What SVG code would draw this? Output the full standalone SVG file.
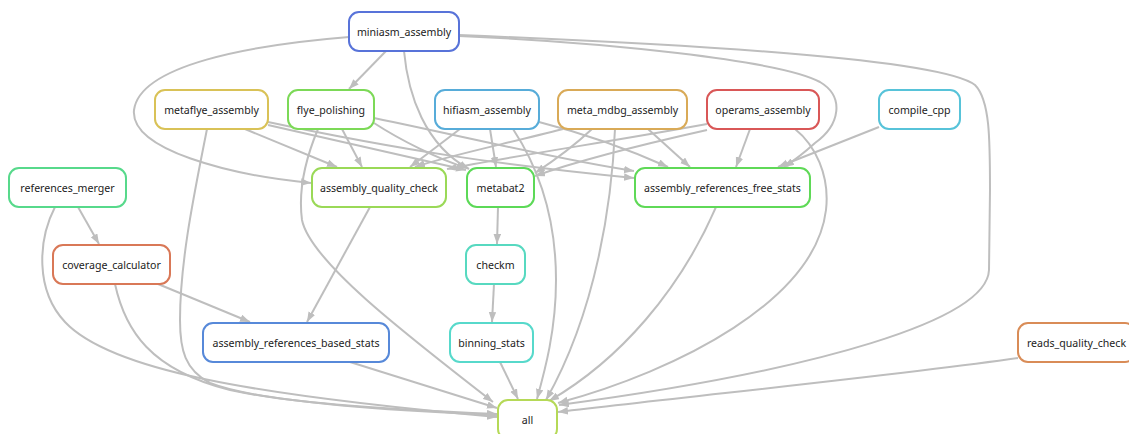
<svg xmlns="http://www.w3.org/2000/svg" width="1129" height="434" viewBox="0 0 1129 434">
<defs>
<marker id="ah" markerUnits="userSpaceOnUse" markerWidth="11" markerHeight="8" refX="10" refY="3.75" orient="auto">
<path d="M0,0 L10,3.75 L0,7.5 z" fill="#bebebe"/>
</marker>
<style>
.n rect{fill:#fff;stroke-width:2}
.n text{font-family:"Noto Sans","DejaVu Sans",sans-serif;font-size:10.6px;fill:#222;text-anchor:middle}
#edges path{fill:none;stroke:#bebebe;stroke-width:2;marker-end:url(#ah)}
</style>
</defs>
<rect width="1129" height="434" fill="#fff"/>
<g id="edges">
<path d="M386,51 L349,89"/>
<path d="M349,37 C250,45 140,65 134,110 C130,150 230,175 311,183"/>
<path d="M404,51 C408,95 425,145 469,169"/>
<path d="M459,36 C600,42 780,60 820,82 C845,97 840,125 815,143 C805,152 795,160 784,167"/>
<path d="M459,35 C680,44 940,58 975,85 C990,100 990,140 990,190 L989,270 C987,320 820,370 559,405"/>
<path d="M245,129 L337,167"/>
<path d="M268,125 L466,170"/>
<path d="M268,122 C400,150 500,165 634,178"/>
<path d="M207,129 C195,190 180,260 180,320 C180,350 185,370 210,383 C260,403 400,410 497,414"/>
<path d="M342,129 L362,167"/>
<path d="M374,123 C400,140 440,160 467,168"/>
<path d="M374,118 C480,140 560,160 634,171"/>
<path d="M318,129 C305,160 298,190 302,220 C310,260 400,330 493,402"/>
<path d="M460,129 L410,167"/>
<path d="M490,129 L496,167"/>
<path d="M539,122 C590,135 630,150 668,167"/>
<path d="M513,129 C540,170 556,220 556,280 C556,330 545,370 537,399"/>
<path d="M563,129 C500,145 440,158 415,167"/>
<path d="M592,129 C575,145 555,160 535,173"/>
<path d="M648,129 L690,167"/>
<path d="M615,129 C612,200 597,310 546,400"/>
<path d="M707,124 C620,140 520,155 447,169"/>
<path d="M707,130 C640,145 580,160 535,176"/>
<path d="M750,129 L736,167"/>
<path d="M795,129 C815,145 830,175 826,210 C815,300 680,370 558,403"/>
<path d="M879,127 L778,167"/>
<path d="M78,207 L99,244"/>
<path d="M55,207 C38,240 35,290 65,322 C110,370 250,395 497,417"/>
<path d="M115,284 C125,330 150,370 230,390 C300,405 420,412 497,415"/>
<path d="M158,284 L250,322"/>
<path d="M370,207 L307,322"/>
<path d="M498,207 L497,244"/>
<path d="M494,284 L492,322"/>
<path d="M500,362 L518,399"/>
<path d="M350,362 L497,408"/>
<path d="M716,207 C680,290 620,360 549,401"/>
<path d="M1018,358 C900,375 700,395 558,412"/>
</g>
<g id="miniasm_assembly" class="n"><rect x="349" y="12" width="110" height="39" rx="10" stroke="#5873D9"/><text x="404" y="35.5">miniasm_assembly</text></g>
<g id="metaflye_assembly" class="n"><rect x="155" y="90" width="113" height="39" rx="10" stroke="#D9C257"/><text x="211.5" y="113.5">metaflye_assembly</text></g>
<g id="flye_polishing" class="n"><rect x="288" y="90" width="86" height="39" rx="10" stroke="#7CD957"/><text x="331" y="113.5">flye_polishing</text></g>
<g id="hifiasm_assembly" class="n"><rect x="435" y="90" width="104" height="39" rx="10" stroke="#57ACD9"/><text x="487" y="113.5">hifiasm_assembly</text></g>
<g id="meta_mdbg_assembly" class="n"><rect x="558" y="90" width="129" height="39" rx="10" stroke="#D9AA57"/><text x="622.5" y="113.5">meta_mdbg_assembly</text></g>
<g id="operams_assembly" class="n"><rect x="707" y="90" width="112" height="39" rx="10" stroke="#D95757"/><text x="763" y="113.5">operams_assembly</text></g>
<g id="compile_cpp" class="n"><rect x="879" y="90" width="81" height="39" rx="10" stroke="#57C3D9"/><text x="919.5" y="113.5">compile_cpp</text></g>
<g id="references_merger" class="n"><rect x="9" y="168" width="117" height="39" rx="10" stroke="#57D98B"/><text x="67.5" y="191.5">references_merger</text></g>
<g id="assembly_quality_check" class="n"><rect x="312" y="168" width="134" height="39" rx="10" stroke="#9AD957"/><text x="379" y="191.5">assembly_quality_check</text></g>
<g id="metabat2" class="n"><rect x="467" y="168" width="67" height="39" rx="10" stroke="#5CD957"/><text x="500.5" y="191.5">metabat2</text></g>
<g id="assembly_references_free_stats" class="n"><rect x="635" y="168" width="175" height="39" rx="10" stroke="#5FD957"/><text x="722.5" y="191.5">assembly_references_free_stats</text></g>
<g id="coverage_calculator" class="n"><rect x="53" y="245" width="117" height="39" rx="10" stroke="#D97857"/><text x="111.5" y="268.5">coverage_calculator</text></g>
<g id="checkm" class="n"><rect x="466" y="245" width="59" height="39" rx="10" stroke="#57D9C0"/><text x="495.5" y="268.5">checkm</text></g>
<g id="assembly_references_based_stats" class="n"><rect x="203" y="323" width="186" height="39" rx="10" stroke="#5789D9"/><text x="296" y="346.5">assembly_references_based_stats</text></g>
<g id="binning_stats" class="n"><rect x="450" y="323" width="83" height="39" rx="10" stroke="#57D9CB"/><text x="491.5" y="346.5">binning_stats</text></g>
<g id="reads_quality_check" class="n"><rect x="1018" y="323" width="117" height="39" rx="10" stroke="#D98C57"/><text x="1076.5" y="346.5">reads_quality_check</text></g>
<g id="all" class="n"><rect x="498" y="400" width="59" height="39" rx="10" stroke="#B5D957"/><text x="527.5" y="423.5">all</text></g>
</svg>
